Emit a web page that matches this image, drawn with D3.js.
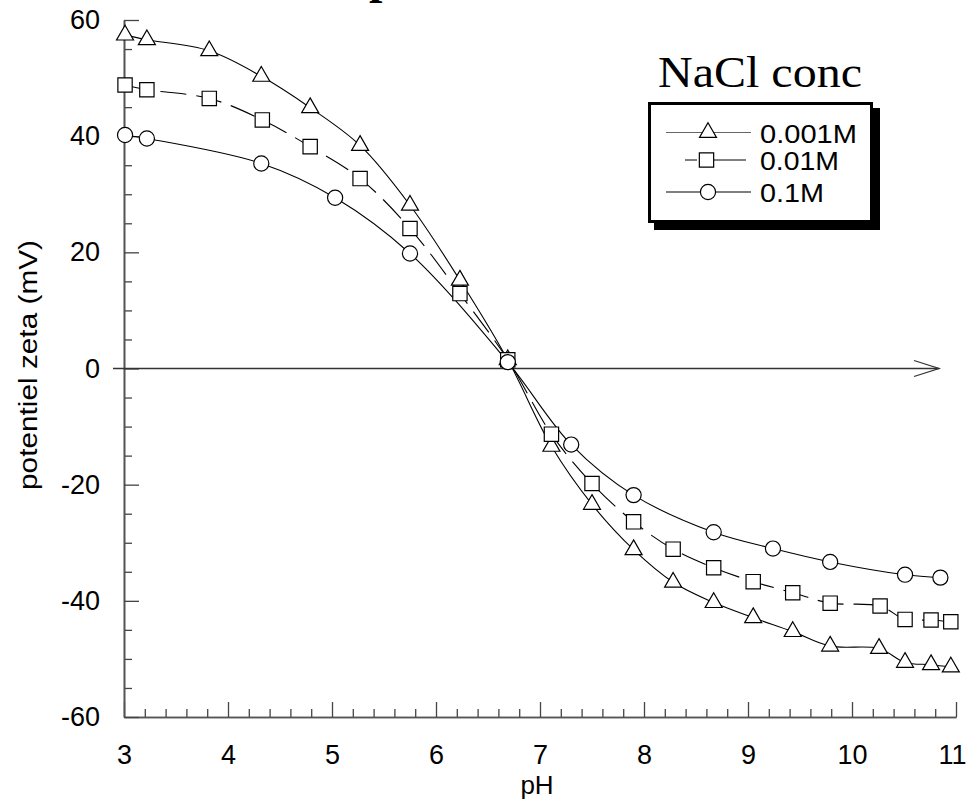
<!DOCTYPE html>
<html>
<head>
<meta charset="utf-8">
<script src="https://cdn.jsdelivr.net/npm/d3@7"></script>
<style>
  body { margin: 0; background: #fff; }
  svg { display: block; }
  text { font-family: "Liberation Sans", Arial, sans-serif; }
</style>
</head>
<body>
<script>
// data
const phTri = [3.01, 3.22, 3.82, 4.32, 4.79, 5.27, 5.75, 6.23, 6.69, 7.11, 7.50, 7.90, 8.28, 8.67, 9.05, 9.43, 9.79, 10.26, 10.51, 10.76, 10.95]
const zetaTri = [57.4, 56.6, 54.7, 50.3, 44.9, 38.4, 28.1, 15.2, 1.5, -13.4, -23.4, -31.2, -36.8, -40.3, -42.9, -45.3, -47.8, -48.2, -50.6, -51.0, -51.4]

const phSq = [3.01, 3.22, 3.82, 4.33, 4.79, 5.27, 5.75, 6.23, 6.69, 7.11, 7.50, 7.90, 8.28, 8.67, 9.05, 9.43, 9.79, 10.27, 10.51, 10.76, 10.95]
const zetaSq = [48.8, 48.0, 46.5, 42.8, 38.2, 32.7, 24.1, 12.9, 1.5, -11.3, -19.8, -26.4, -31.1, -34.3, -36.7, -38.6, -40.4, -40.9, -43.2, -43.3, -43.6]

const phCirc = [3.01, 3.22, 4.32, 5.03, 5.75, 6.69, 7.30, 7.90, 8.67, 9.24, 9.79, 10.51, 10.85]
const zetaCirc = [40.2, 39.6, 35.3, 29.4, 19.8, 1.1, -13.1, -21.8, -28.2, -31.0, -33.3, -35.5, -36.0]

const seriesNames = ['0.001M', '0.01M', '0.1M']
const xTicks = [3, 4, 5, 6, 7, 8, 9, 10, 11]
const yTicks = [-60, -40, -20, 0, 20, 40, 60]

const width = 969
const height = 799

const svg = d3.select('body').append('svg').attr('width', width).attr('height', height)

const x = d3.scaleLinear().domain([3, 11]).range([124, 956])
const y = d3.scaleLinear().domain([-60, 60]).range([717, 20])

// title, mostly above the page edge (only the descender shows)
svg.append('text').text('potentiel zeta')
    .attr('x', 369).attr('y', -7)
    .style('font-family', '"Liberation Serif", "Times New Roman", serif')
    .style('font-weight', 'bold').style('font-size', '48px')

// x axis, ticks pointing up
const xMinor = d3.range(3, 11.001, 0.2).filter(v => Math.abs(v - Math.round(v)) > 0.01)
svg.append('g').attr('transform', `translate(0,${y(-60)})`)
    .call(d3.axisBottom(x).tickValues(xMinor).tickSizeInner(-8).tickSizeOuter(0).tickFormat(''))
const xAxis = svg.append('g').attr('transform', `translate(0,${y(-60)})`)
    .call(d3.axisBottom(x).tickValues(xTicks).tickSizeInner(-15).tickSizeOuter(0).tickPadding(28).tickFormat(d => String(d)))

// y axis, ticks pointing right
const yMinor = d3.range(-60, 60.001, 5).filter(v => v % 20 !== 0)
svg.append('g').attr('transform', `translate(${x(3)},0)`)
    .call(d3.axisLeft(y).tickValues(yMinor).tickSizeInner(-8).tickSizeOuter(0).tickFormat(''))
const yAxis = svg.append('g').attr('transform', `translate(${x(3)},0)`)
    .call(d3.axisLeft(y).tickValues(yTicks).tickSizeInner(-15).tickSizeOuter(0).tickPadding(24).tickFormat(d => String(d)))

svg.selectAll('.domain').attr('stroke', '#555').attr('stroke-width', 1.6)
svg.selectAll('.tick line').attr('stroke', '#444').attr('stroke-width', 1.3)
svg.selectAll('.tick text').attr('font-size', null).style('font-size', '27px').attr('fill', '#000')
// last label sits at the page edge, nudge it in
xAxis.selectAll('.tick text').filter(d => d === 11).attr('x', -4)

// zero line with open arrow
svg.append('line')
    .attr('x1', 113).attr('x2', 939)
    .attr('y1', y(0)).attr('y2', y(0))
    .attr('stroke', '#333').attr('stroke-width', 1.3)
svg.append('path')
    .attr('d', `M914,${y(0) - 8}L939,${y(0)}L914,${y(0) + 8}`)
    .attr('fill', 'none').attr('stroke', '#333').attr('stroke-width', 1.3)

// axis titles
svg.append('text').text('pH')
    .attr('x', 537).attr('y', 794).attr('text-anchor', 'middle')
    .style('font-size', '26px')
svg.append('text').text('potentiel zeta (mV)')
    .attr('transform', `translate(37,365) rotate(-90)`)
    .attr('text-anchor', 'middle')
    .attr('textLength', 250).attr('lengthAdjust', 'spacingAndGlyphs')
    .style('font-size', '26px')

// series
const series = [
    {name: seriesNames[0], ph: phTri, zeta: zetaTri, symbol: d3.symbolTriangle, dash: null},
    {name: seriesNames[1], ph: phSq, zeta: zetaSq, symbol: d3.symbolSquare, dash: '26,10'},
    {name: seriesNames[2], ph: phCirc, zeta: zetaCirc, symbol: d3.symbolCircle, dash: null}
]
const symbolSize = {}
symbolSize[seriesNames[0]] = 125
symbolSize[seriesNames[1]] = 205
symbolSize[seriesNames[2]] = 180

const line = d3.line().x(d => x(d[0])).y(d => y(d[1])).curve(d3.curveCatmullRom.alpha(0.5))

series.forEach(s => {
    const pts = s.ph.map((p, i) => [p, s.zeta[i]])
    svg.append('path')
        .datum(pts)
        .attr('d', line)
        .attr('fill', 'none')
        .attr('stroke', '#000')
        .attr('stroke-width', 1.1)
        .attr('stroke-dasharray', s.dash)
})

series.forEach(s => {
    const pts = s.ph.map((p, i) => [p, s.zeta[i]])
    svg.append('g').selectAll('path')
        .data(pts)
        .enter()
        .append('path')
        .attr('d', d3.symbol().type(s.symbol).size(symbolSize[s.name]))
        .attr('transform', d => `translate(${x(d[0])},${y(d[1])})`)
        .attr('fill', '#fff')
        .attr('stroke', '#000')
        .attr('stroke-width', 1.2)
})

// legend
svg.append('text').text('NaCl conc')
    .attr('x', 658).attr('y', 87)
    .attr('textLength', 204).attr('lengthAdjust', 'spacingAndGlyphs')
    .style('font-family', '"Liberation Serif", "Times New Roman", serif')
    .style('font-size', '44px')

const legend = svg.append('g')
legend.append('rect')
    .attr('x', 654).attr('y', 108).attr('width', 226).attr('height', 122)
    .attr('fill', '#000')
legend.append('rect')
    .attr('x', 649.5).attr('y', 103.5).attr('width', 222).attr('height', 118)
    .attr('fill', '#fff').attr('stroke', '#000').attr('stroke-width', 3)

const legendRows = [132.5, 160, 192]
const legendTextLen = [97, 79, 64]
series.forEach((s, i) => {
    const ly = legendRows[i]
    if (s.dash) {
        legend.append('line').attr('x1', 685).attr('x2', 697).attr('y1', ly).attr('y2', ly).attr('stroke', '#000')
        legend.append('line').attr('x1', 713).attr('x2', 746).attr('y1', ly).attr('y2', ly).attr('stroke', '#000')
    } else {
        legend.append('line').attr('x1', 666).attr('x2', 751).attr('y1', ly).attr('y2', ly).attr('stroke', i === 0 ? '#666' : '#000').attr('stroke-width', 1.2)
    }
    legend.append('path')
        .attr('d', d3.symbol().type(s.symbol).size(symbolSize[s.name]))
        .attr('transform', `translate(${s.dash ? 706.5 : 708},${ly})`)
        .attr('fill', '#fff').attr('stroke', '#000').attr('stroke-width', 1.2)
    legend.append('text').text(s.name)
        .attr('x', 760).attr('y', ly + 10)
        .attr('textLength', legendTextLen[i]).attr('lengthAdjust', 'spacingAndGlyphs')
        .style('font-size', '26px')
})
</script>
</body>
</html>
